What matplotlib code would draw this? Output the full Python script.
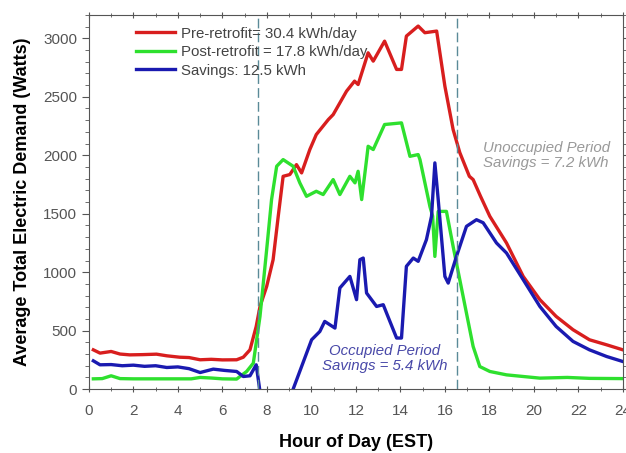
import matplotlib.pyplot as plt
from matplotlib.ticker import MultipleLocator

plt.rcParams['font.family'] = ['Liberation Sans', 'DejaVu Sans']

# pre-retrofit demand (W)
pre_hours = [0.2, 0.5, 1.0, 1.4, 1.84, 2.4, 3.04, 3.5, 4.08, 4.5, 5.0, 5.5, 6.0, 6.64,
             6.94, 7.24, 7.52, 7.69, 7.99, 8.28, 8.51, 8.73, 9.03, 9.33, 9.56, 9.93,
             10.22, 10.76, 10.98, 11.58, 11.94, 12.1, 12.55, 12.78, 13.29, 13.83,
             14.05, 14.27, 14.8, 15.1, 15.63, 16.0, 16.37, 16.67, 17.1, 17.27, 17.6,
             18.02, 18.77, 19.52, 20.27, 21.0, 21.76, 22.5, 23.27, 24.0]
pre_watts = [336, 308, 322, 300, 293, 295, 299, 285, 273, 270, 251, 255, 250, 251,
             273, 336, 536, 707, 878, 1107, 1478, 1820, 1835, 1920, 1849, 2049,
             2177, 2305, 2348, 2548, 2634, 2605, 2876, 2805, 2976, 2734,
             2734, 3019, 3105, 3048, 3062, 2591, 2220, 2023, 1820, 1792, 1650,
             1478, 1250, 964, 765, 622, 508, 422, 379, 336]

# post-retrofit demand (W)
post_hours = [0.2, 0.6, 1.0, 1.4, 2.0, 3.0, 4.0, 4.6, 5.0, 5.5, 6.0, 6.64, 7.09, 7.39,
              7.69, 7.99, 8.21, 8.44, 8.73, 9.18, 9.48, 9.78, 10.22, 10.53, 10.98,
              11.28, 11.73, 11.96, 12.1, 12.26, 12.48, 12.55, 12.78, 13.29, 14.05,
              14.43, 14.8, 14.88, 15.33, 15.45, 15.55, 15.7, 16.07, 16.37, 16.67,
              16.97, 17.27, 17.57, 18.02, 18.77, 20.27, 21.5, 22.5, 24.0]
post_watts = [88, 90, 114, 90, 88, 88, 88, 88, 100, 95, 88, 86, 151, 222,
              622, 1193, 1621, 1906, 1963, 1906, 1764, 1649, 1692, 1664, 1792,
              1664, 1820, 1764, 1863, 1621, 1963, 2077, 2049, 2263, 2277,
              1991, 2006, 1963, 1560, 1480, 1135, 1520, 1520, 1221, 936,
              650, 365, 193, 151, 122, 94, 100, 92, 90]

# savings (W)
sav_hours = [0.2, 0.5, 1.0, 1.5, 2.0, 2.5, 3.0, 3.5, 4.0, 4.5, 5.0, 5.59, 6.1, 6.64,
             6.94, 7.24, 7.52, 7.69, 8.0, 8.5, 9.0, 9.18, 10.01, 10.38, 10.6, 11.06,
             11.28, 11.73, 12.03, 12.18, 12.33, 12.48, 12.93, 13.23, 13.38, 13.83,
             14.05, 14.27, 14.58, 14.8, 15.17, 15.4, 15.55, 15.7, 16.0, 16.15,
             16.52, 16.97, 17.42, 17.72, 18.32, 18.77, 19.52, 20.27, 21.0, 21.76,
             22.5, 23.27, 24.0]
sav_watts = [242, 208, 210, 200, 205, 195, 200, 185, 190, 175, 142, 171, 160, 151,
             108, 114, 208, -20, -300, -400, -100, 0, 422, 493, 579, 522,
             865, 964, 765, 1107, 1121, 822, 707, 722, 650, 437,
             437, 1050, 1121, 1093, 1278, 1478, 1935, 1621, 964, 907,
             1135, 1392, 1449, 1423, 1250, 1164, 936, 707, 536, 408,
             336, 279, 236]

fig = plt.figure(figsize=(6.26, 4.53), dpi=100)
ax = fig.add_axes([0.142, 0.141, 0.853, 0.826])

ax.plot(pre_hours, pre_watts, color='#d81e1e', lw=2.4, label='Pre-retrofit= 30.4 kWh/day')
ax.plot(post_hours, post_watts, color='#2ee02e', lw=2.4, label='Post-retrofit = 17.8 kWh/day')
ax.plot(sav_hours, sav_watts, color='#1a1ab0', lw=2.4, label='Savings: 12.5 kWh')

for xv in [7.6, 16.55]:
    ax.axvline(xv, color='#5a8a98', lw=1, linestyle=(0, (7, 3)))

ax.set_xlim(0, 24)
ax.set_ylim(0, 3200)
ax.xaxis.set_major_locator(MultipleLocator(2))
ax.xaxis.set_minor_locator(MultipleLocator(1))
ax.yaxis.set_major_locator(MultipleLocator(500))
ax.yaxis.set_minor_locator(MultipleLocator(100))
ax.tick_params(which='both', direction='out', colors='#555555', labelsize=11,
               top=True, right=True, labelcolor='#555555')
ax.tick_params(axis='x', which='both', direction='inout')
ax.tick_params(axis='x', which='major', pad=8)
ax.tick_params(which='major', length=5)
ax.tick_params(which='minor', length=3)
for sp in ax.spines.values():
    sp.set_color('#555555')

ax.set_xlabel('Hour of Day (EST)', fontsize=13, fontweight='bold', labelpad=12)
ax.set_ylabel('Average Total Electric Demand (Watts)', fontsize=13, fontweight='bold', labelpad=9)

leg = ax.legend(loc='upper left', bbox_to_anchor=(0.068, 0.997), frameon=False, fontsize=10.8,
                handlelength=2.6, labelspacing=0.3, borderpad=0.2, handletextpad=0.4)
for t in leg.get_texts():
    t.set_color('#444444')

ax.text(20.55, 2000, 'Unoccupied Period\nSavings = 7.2 kWh', color='#999999', style='italic',
        fontsize=10.8, ha='center', va='center', linespacing=1.1)
ax.text(13.3, 260, 'Occupied Period\nSavings = 5.4 kWh', color='#4848a8', style='italic',
        fontsize=10.8, ha='center', va='center', linespacing=1.1)

fig.savefig('out.png', dpi=100)
